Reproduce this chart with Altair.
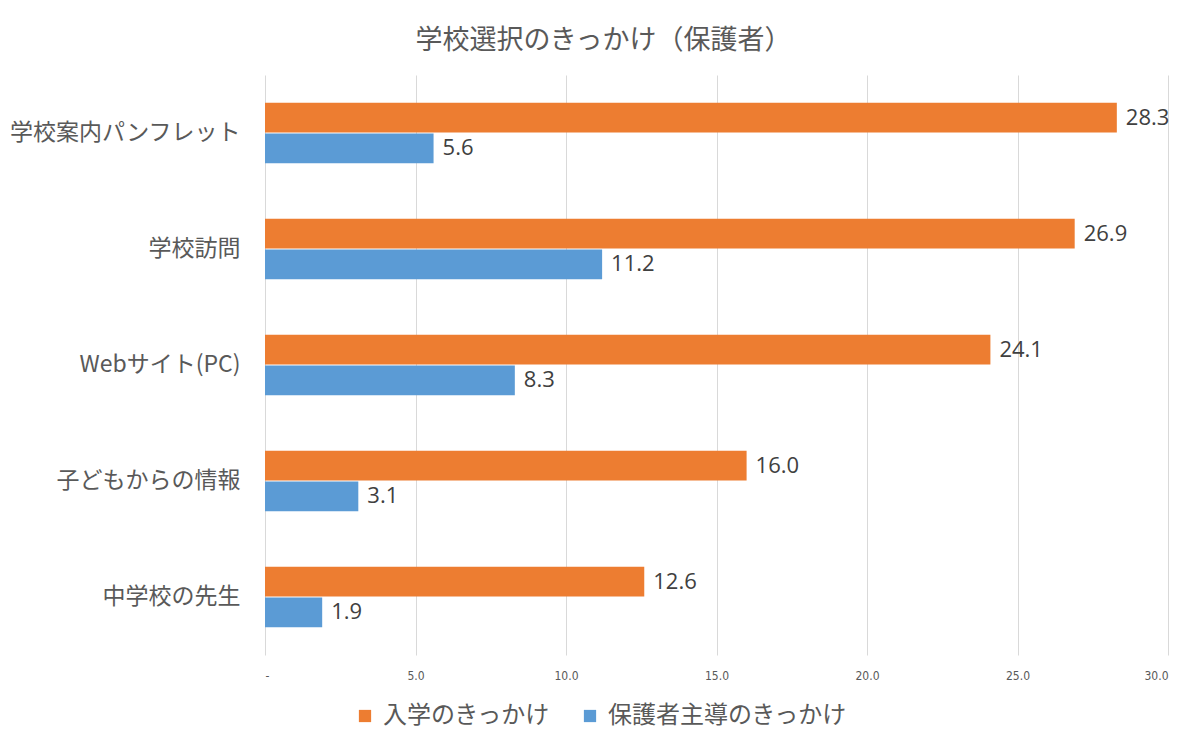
import altair as alt
import pandas as pd

categories = ["学校案内パンフレット", "学校訪問", "Webサイト(PC)", "子どもからの情報", "中学校の先生"]
series_names = ["入学のきっかけ", "保護者主導のきっかけ"]
entry_values = [28.3, 26.9, 24.1, 16.0, 12.6]
parent_values = [5.6, 11.2, 8.3, 3.1, 1.9]
colors = ["#ED7D31", "#5B9BD5"]

rows = []
for c, a, b in zip(categories, entry_values, parent_values):
    rows.append({"cat": c, "series": series_names[0], "value": a})
    rows.append({"cat": c, "series": series_names[1], "value": b})
df = pd.DataFrame(rows)

FONT = "Noto Sans CJK JP"

y = alt.Y("cat:N", sort=categories, title=None,
          scale=alt.Scale(paddingInner=0.48, paddingOuter=0.24),
          axis=alt.Axis(domain=False, ticks=False, labelFontSize=23, labelColor="#595959",
                        labelPadding=25, labelFont=FONT, labelLimit=300))
yoff = alt.YOffset("series:N", sort=series_names, scale=alt.Scale(paddingInner=0.04))
x = alt.X("value:Q", title=None,
          scale=alt.Scale(domain=[0, 30], nice=False),
          axis=alt.Axis(values=[0, 5, 10, 15, 20, 25, 30], domain=False, ticks=False,
                        gridColor="#D9D9D9", gridWidth=1, labelFontSize=12,
                        labelColor="#595959", labelPadding=15,
                        labelFont="DejaVu Sans Condensed, Liberation Sans, sans-serif",
                        labelExpr="datum.value == 0 ? '-' : format(datum.value, '.1f')"))

bars = alt.Chart(df).mark_bar().encode(
    x=x, y=y, yOffset=yoff,
    color=alt.Color("series:N", sort=series_names,
                    scale=alt.Scale(domain=series_names, range=colors),
                    legend=alt.Legend(title=None, orient="none", legendX=88, legendY=629,
                                      direction="horizontal", symbolType="square",
                                      symbolSize=150, symbolStrokeWidth=0,
                                      labelFontSize=24, labelColor="#595959", labelFont=FONT,
                                      columnPadding=27, labelOffset=6, labelLimit=400))
)

labels = alt.Chart(df).mark_text(align="left", baseline="middle", dx=9, fontSize=22,
                                 color="#404040", font="Open Sans").encode(
    x="value:Q", y=alt.Y("cat:N", sort=categories), yOffset=yoff,
    text=alt.Text("value:Q", format=".1f")
)

chart = (bars + labels).properties(
    width=903, height=580,
    padding={"left": 265, "top": 75, "right": 32, "bottom": 94},
    autosize=alt.AutoSizeParams(type="none"),
    title=alt.TitleParams("学校選択のきっかけ（保護者）", fontSize=27, color="#595959",
                          font=FONT, fontWeight="normal", dx=-113, offset=20, anchor="middle"),
    background="white"
).configure_view(stroke=None)

chart.save("out.html", embed_options={"renderer": "svg", "actions": False})
